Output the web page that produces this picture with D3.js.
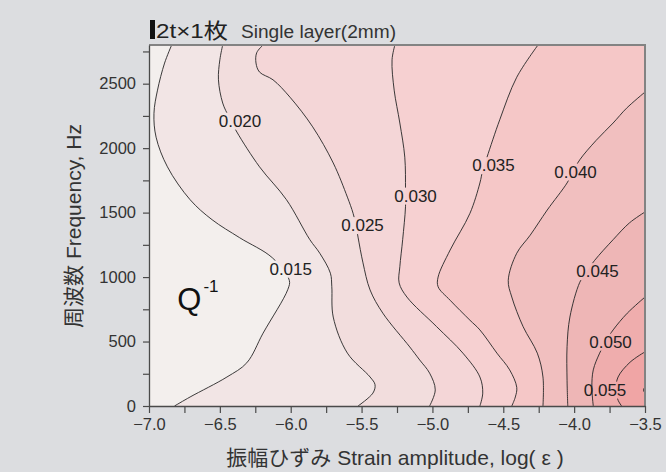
<!DOCTYPE html>
<html>
<head>
<meta charset="utf-8">
<script src="https://cdn.jsdelivr.net/npm/d3@7"></script>
<style>
  body { margin: 0; background: #dcdde0; }
  svg { display: block; font-family: "Liberation Sans", Arial, "Noto Sans CJK JP", sans-serif; }
</style>
</head>
<body>
<svg id="chart" width="666" height="472"></svg>
<script>
var levels = [0.015, 0.020, 0.025, 0.030, 0.035, 0.040, 0.045, 0.050, 0.055, 0.060];

var line015 = [[-6.84,2800],[-6.89,2660],[-6.94,2450],[-6.965,2270],[-6.95,2085],[-6.87,1855],[-6.71,1600],
  [-6.555,1445],[-6.36,1305],[-6.13,1150],[-6.01,975],[-6.02,905],[-6.195,565],[-6.31,335],[-6.45,225],[-6.71,70],[-6.82,0]];
var line020 = [[-6.48,2800],[-6.50,2685],[-6.51,2530],[-6.48,2350],[-6.435,2240],[-6.38,2125],[-6.22,1855],[-6.03,1600],
  [-5.865,1290],[-5.795,1185],[-5.72,1030],[-5.71,925],[-5.70,690],[-5.60,410],[-5.44,225],[-5.405,165],[-5.42,100],[-5.525,0]];
var line025 = [[-6.195,2800],[-6.24,2740],[-6.245,2660],[-6.22,2590],[-6.125,2530],[-6.005,2395],[-5.845,2165],[-5.70,1885],
  [-5.60,1620],[-5.56,1495],[-5.54,1405],[-5.525,1310],[-5.49,1110],[-5.44,900],[-5.35,720],[-5.16,458],[-5.09,357],
  [-5.02,255],[-4.98,125],[-5.02,0]];
var line030 = [[-5.265,2800],[-5.285,2685],[-5.27,2450],[-5.23,2195],[-5.195,1930],[-5.19,1675],[-5.19,1545],[-5.21,1290],
  [-5.23,1080],[-5.235,955],[-5.18,845],[-4.97,615],[-4.785,410],[-4.665,225],[-4.645,100],[-4.665,0]];
var line035 = [[-4.255,2800],[-4.405,2550],[-4.525,2220],[-4.615,1930],[-4.645,1830],[-4.665,1730],[-4.735,1495],[-4.875,1210],
  [-4.96,1000],[-4.96,925],[-4.875,820],[-4.735,665],[-4.665,590],[-4.545,410],[-4.455,280],[-4.405,145],[-4.415,70],[-4.44,0]];
var line040 = [[-3.5,2435],[-3.63,2310],[-3.725,2195],[-3.845,2060],[-3.96,1910],[-4.01,1815],[-4.05,1730],[-4.19,1520],
  [-4.31,1325],[-4.405,1185],[-4.465,975],[-4.44,845],[-4.36,615],[-4.26,410],[-4.22,225],[-4.22,0]];
var line045 = [[-3.5,1505],[-3.61,1420],[-3.725,1290],[-3.855,1130],[-3.91,1045],[-3.96,960],[-4.03,690],[-4.05,460],
  [-4.05,200],[-4.045,0]];
var line050 = [[-3.5,845],[-3.625,720],[-3.725,590],[-3.775,505],[-3.82,410],[-3.865,280],[-3.875,145],[-3.865,0]];
var line055 = [[-3.5,420],[-3.605,340],[-3.69,225],[-3.705,130],[-3.69,45],[-3.665,0]];
var line060 = [[-3.5,150],[-3.51,124],[-3.5,98]];

var contourLines = [line015, line020, line025, line030, line035, line040, line045, line050, line055, line060];

// where each level's number is printed (0.060 has none)
var labelText = ["0.015", "0.020", "0.025", "0.030", "0.035", "0.040", "0.045", "0.050", "0.055"];
var labelPos = [[-6.00,1066],[-6.358,2214],[-5.493,1404],[-5.119,1633],[-4.569,1869],[-3.990,1819],[-3.835,1047],[-3.743,500],[-3.782,128]];

var xDomain = [-7.0, -3.5];
var yDomain = [0, 2800];
var xTickValues = [-7.0,-6.75,-6.5,-6.25,-6.0,-5.75,-5.5,-5.25,-5.0,-4.75,-4.5,-4.25,-4.0,-3.75,-3.5];
var yTickValues = [0,250,500,750,1000,1250,1500,1750,2000,2250,2500,2750];

var bandColors = ["#f3efed","#f2e5e5","#f2dddd","#f4d6d7","#f6d0d1","#f5c7c7","#f1bfbf","#eeb6b6","#efadad","#f0a5a5","#ec9e9e"];

var svg = d3.select("#chart"),
    margin = {left: 149, right: 21, top: 45, bottom: 66},
    width = +svg.attr("width") - margin.left - margin.right,
    height = +svg.attr("height") - margin.top - margin.bottom;

var x = d3.scaleLinear().domain(xDomain).range([0, width]);
var y = d3.scaleLinear().domain(yDomain).range([height, 0]);

var g = svg.append("g").attr("transform", "translate(" + margin.left + "," + margin.top + ")");

var defs = svg.append("defs");
defs.append("clipPath").attr("id", "plotclip")
  .append("rect").attr("width", width).attr("height", height);

var plot = g.append("g").attr("clip-path", "url(#plotclip)");

plot.append("rect")
    .attr("width", width).attr("height", height)
    .attr("fill", bandColors[0]);

var curve = d3.line()
    .x(function(d) { return x(d[0]); })
    .y(function(d) { return y(d[1]); })
    .curve(d3.curveCatmullRom.alpha(0.5));

function closeRight(pts) {
  var c = "";
  if (pts[pts.length - 1][1] === yDomain[0]) c += "L" + x(xDomain[1]) + "," + y(yDomain[0]);
  if (pts[0][1] === yDomain[1]) c += "L" + x(xDomain[1]) + "," + y(yDomain[1]);
  return c + "Z";
}

// bands: paint the higher side of every level on top of the last
plot.selectAll("path.band")
  .data(contourLines)
  .enter().append("path")
    .attr("class", "band")
    .attr("d", function(d) { return curve(d) + closeRight(d); })
    .attr("fill", function(d, i) { return bandColors[i + 1]; });

// labels first, so their boxes can cut gaps in their own lines
var labels = g.append("g")
  .selectAll("text")
  .data(labelText)
  .enter().append("text")
    .attr("x", function(d, i) { return x(labelPos[i][0]); })
    .attr("y", function(d, i) { return y(labelPos[i][1]); })
    .attr("dy", "0.36em")
    .attr("text-anchor", "middle")
    .attr("font-size", 17)
    .attr("fill", "#222")
    .text(function(d) { return d; });

var boxes = [];
labels.each(function() { boxes.push(this.getBBox()); });

contourLines.forEach(function(pts, i) {
  var m = defs.append("mask").attr("id", "gap" + i)
      .attr("maskUnits", "userSpaceOnUse")
      .attr("x", -10).attr("y", -10).attr("width", width + 20).attr("height", height + 20);
  m.append("rect").attr("x", -10).attr("y", -10)
      .attr("width", width + 20).attr("height", height + 20).attr("fill", "#fff");
  if (boxes[i]) {
    var b = boxes[i];
    m.append("rect").attr("x", b.x - 1).attr("y", b.y + 1)
        .attr("width", b.width + 2).attr("height", b.height - 2).attr("fill", "#000");
  }
});

plot.selectAll("path.level")
  .data(contourLines)
  .enter().append("path")
    .attr("class", "level")
    .attr("d", curve)
    .attr("fill", "none")
    .attr("stroke", "#262626")
    .attr("stroke-width", 0.9)
    .attr("mask", function(d, i) { return "url(#gap" + i + ")"; });

labels.raise();

// frame: grey on top and right
g.append("path")
    .attr("d", "M0,0H" + width + "V" + height)
    .attr("fill", "none")
    .attr("stroke", "#838383")
    .attr("stroke-width", 2);

var fmtX = d3.format(".1f");

var xAxis = g.append("g")
    .attr("transform", "translate(0," + height + ")")
    .call(d3.axisBottom(x)
      .tickValues(xTickValues)
      .tickSize(7).tickSizeOuter(0).tickPadding(5)
      .tickFormat(function(d) { return (d * 2) % 1 === 0 ? fmtX(d) : ""; }));

var yAxis = g.append("g")
    .call(d3.axisLeft(y)
      .tickValues(yTickValues)
      .tickSize(6).tickSizeOuter(0).tickPadding(7)
      .tickFormat(function(d) { return d % 500 === 0 ? d : ""; }));

[xAxis, yAxis].forEach(function(a) {
  a.select(".domain").attr("stroke", "#4a4a4a").attr("stroke-width", 1.3);
  a.selectAll(".tick line").attr("stroke", "#4a4a4a").attr("stroke-width", 1.2);
  a.selectAll(".tick text").attr("fill", "#333").attr("font-size", 16.5)
    .attr("font-family", "\"Liberation Sans\", Arial, sans-serif");
});

// Q^-1 marker inside the plot
var q = g.append("text")
    .attr("x", x(-6.8)).attr("y", y(745))
    .attr("fill", "#111");
q.append("tspan").attr("font-size", 31).text("Q");
q.append("tspan").attr("font-size", 17).attr("dy", -18).attr("dx", 2).text("-1");

// axis titles
svg.append("text")
    .attr("x", margin.left + width / 2 - 2)
    .attr("y", 465)
    .attr("text-anchor", "middle")
    .attr("font-size", 21)
    .attr("fill", "#333")
    .text("振幅ひずみ Strain amplitude, log( ε )");

svg.append("text")
    .attr("transform", "translate(81,226) rotate(-90)")
    .attr("text-anchor", "middle")
    .attr("font-size", 21)
    .attr("fill", "#333")
    .text("周波数 Frequency, Hz");

// heading
svg.append("rect")
    .attr("x", 150).attr("y", 20).attr("width", 5).attr("height", 19)
    .attr("fill", "#111");
var head = svg.append("text").attr("x", 156).attr("y", 38).attr("fill", "#222");
head.append("tspan").attr("font-size", 21)
    .attr("textLength", 72).attr("lengthAdjust", "spacingAndGlyphs").text("2t×1枚");
head.append("tspan").attr("x", 241).attr("font-size", 17.5)
    .attr("textLength", 155).attr("lengthAdjust", "spacingAndGlyphs")
    .attr("fill", "#333").text("Single layer(2mm)");
</script>
</body>
</html>
